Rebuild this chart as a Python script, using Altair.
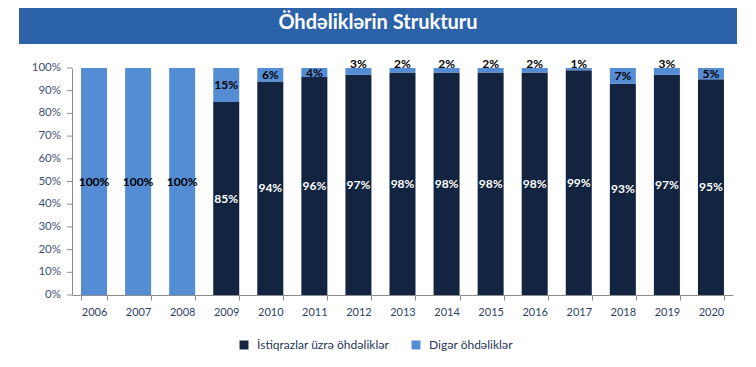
import altair as alt
import pandas as pd

years = ["2006", "2007", "2008", "2009", "2010", "2011", "2012", "2013",
         "2014", "2015", "2016", "2017", "2018", "2019", "2020"]
bonds = [0, 0, 0, 85, 94, 96, 97, 98, 98, 98, 98, 99, 93, 97, 95]
other = [100, 100, 100, 15, 6, 4, 3, 2, 2, 2, 2, 1, 7, 3, 5]
series_names = ["İstiqrazlar üzrə öhdəliklər", "Digər öhdəliklər"]
series_colors = ["#12243F", "#548DD4"]
title_text = "Öhdəliklərin Strukturu"
y_ticks = [0, 10, 20, 30, 40, 50, 60, 70, 80, 90, 100]

FONT = "Lato, 'Noto Sans', 'DejaVu Sans', sans-serif"

rows = []
for y, b, o in zip(years, bonds, other):
    rows.append({"year": y, "series": series_names[0], "value": b, "order": 0,
                 "label": f"{b}%" if b > 0 else "",
                 "ly": b / 2, "lc": "white"})
    rows.append({"year": y, "series": series_names[1], "value": o, "order": 1,
                 "label": f"{o}%" if o > 0 else "",
                 "ly": (101.8 if o <= 3 else b + o / 2), "lc": "black"})
df = pd.DataFrame(rows)
tick_df = pd.DataFrame({"tick": y_ticks, "tlabel": [f"{t}%" for t in y_ticks]})

W, H = 661, 227

xscale = alt.Scale(paddingInner=0.41, paddingOuter=0.205)
xaxis = alt.Axis(labelAngle=0, tickBand="extent", tickSize=5,
                 labelPadding=6, domainColor="#8C8C8C", tickColor="#8C8C8C",
                 labelColor="#2E3F66", labelFontSize=11, labelFont=FONT)
yscale = alt.Scale(domain=[0, 100], nice=False)
yaxis = alt.Axis(labels=False, ticks=False, grid=False, domainColor="#8C8C8C")

bars = alt.Chart(df).mark_bar().encode(
    x=alt.X("year:N", title=None, scale=xscale, axis=xaxis),
    y=alt.Y("value:Q", stack=True, title=None, scale=yscale, axis=yaxis),
    color=alt.Color("series:N", scale=alt.Scale(domain=series_names, range=series_colors),
                    legend=alt.Legend(title=None, orient="none", legendX=166, legendY=271,
                                      direction="horizontal", symbolType="square",
                                      symbolSize=80, symbolStrokeWidth=0,
                                      labelFontSize=12, labelFont=FONT,
                                      labelColor="#26375A", columnPadding=20,
                                      labelOffset=7)),
    order=alt.Order("order:Q"),
)

labels = alt.Chart(df).mark_text(fontSize=12, fontWeight="bold", font=FONT,
                                 baseline="middle").encode(
    x=alt.X("year:N", title=None, scale=xscale, axis=xaxis),
    y=alt.Y("ly:Q", title=None, scale=yscale, axis=yaxis),
    text="label:N",
    color=alt.Color("lc:N", scale=None),
)

yticks = alt.Chart(tick_df).mark_rule(color="#8C8C8C").encode(
    x=alt.value(-5), x2=alt.value(0),
    y=alt.Y("tick:Q", title=None, scale=yscale, axis=yaxis),
)
ylabels = alt.Chart(tick_df).mark_text(align="right", baseline="middle", fontSize=11.5,
                                       font=FONT, color="#3F5173").encode(
    x=alt.value(-11),
    y=alt.Y("tick:Q", title=None, scale=yscale, axis=yaxis),
    text="tlabel:N",
)

banner_df = pd.DataFrame({"t": [title_text]})
banner = alt.Chart(banner_df).mark_rect(color="#2B62A8").encode(
    x=alt.value(-53), x2=alt.value(665), y=alt.value(-60), y2=alt.value(-24))
title = alt.Chart(banner_df).mark_text(color="white", fontSize=20, fontWeight="bold",
                                       font=FONT, baseline="middle", align="center").encode(
    x=alt.value(306), y=alt.value(-45), text="t:N")

chart = alt.layer(banner, title, bars, labels, yticks, ylabels).properties(
    width=W, height=H,
    padding={"left": 11, "top": 0, "right": 5, "bottom": 5},
).configure_view(stroke=None)

chart.save("out.html", embed_options={"renderer": "svg", "actions": False})
